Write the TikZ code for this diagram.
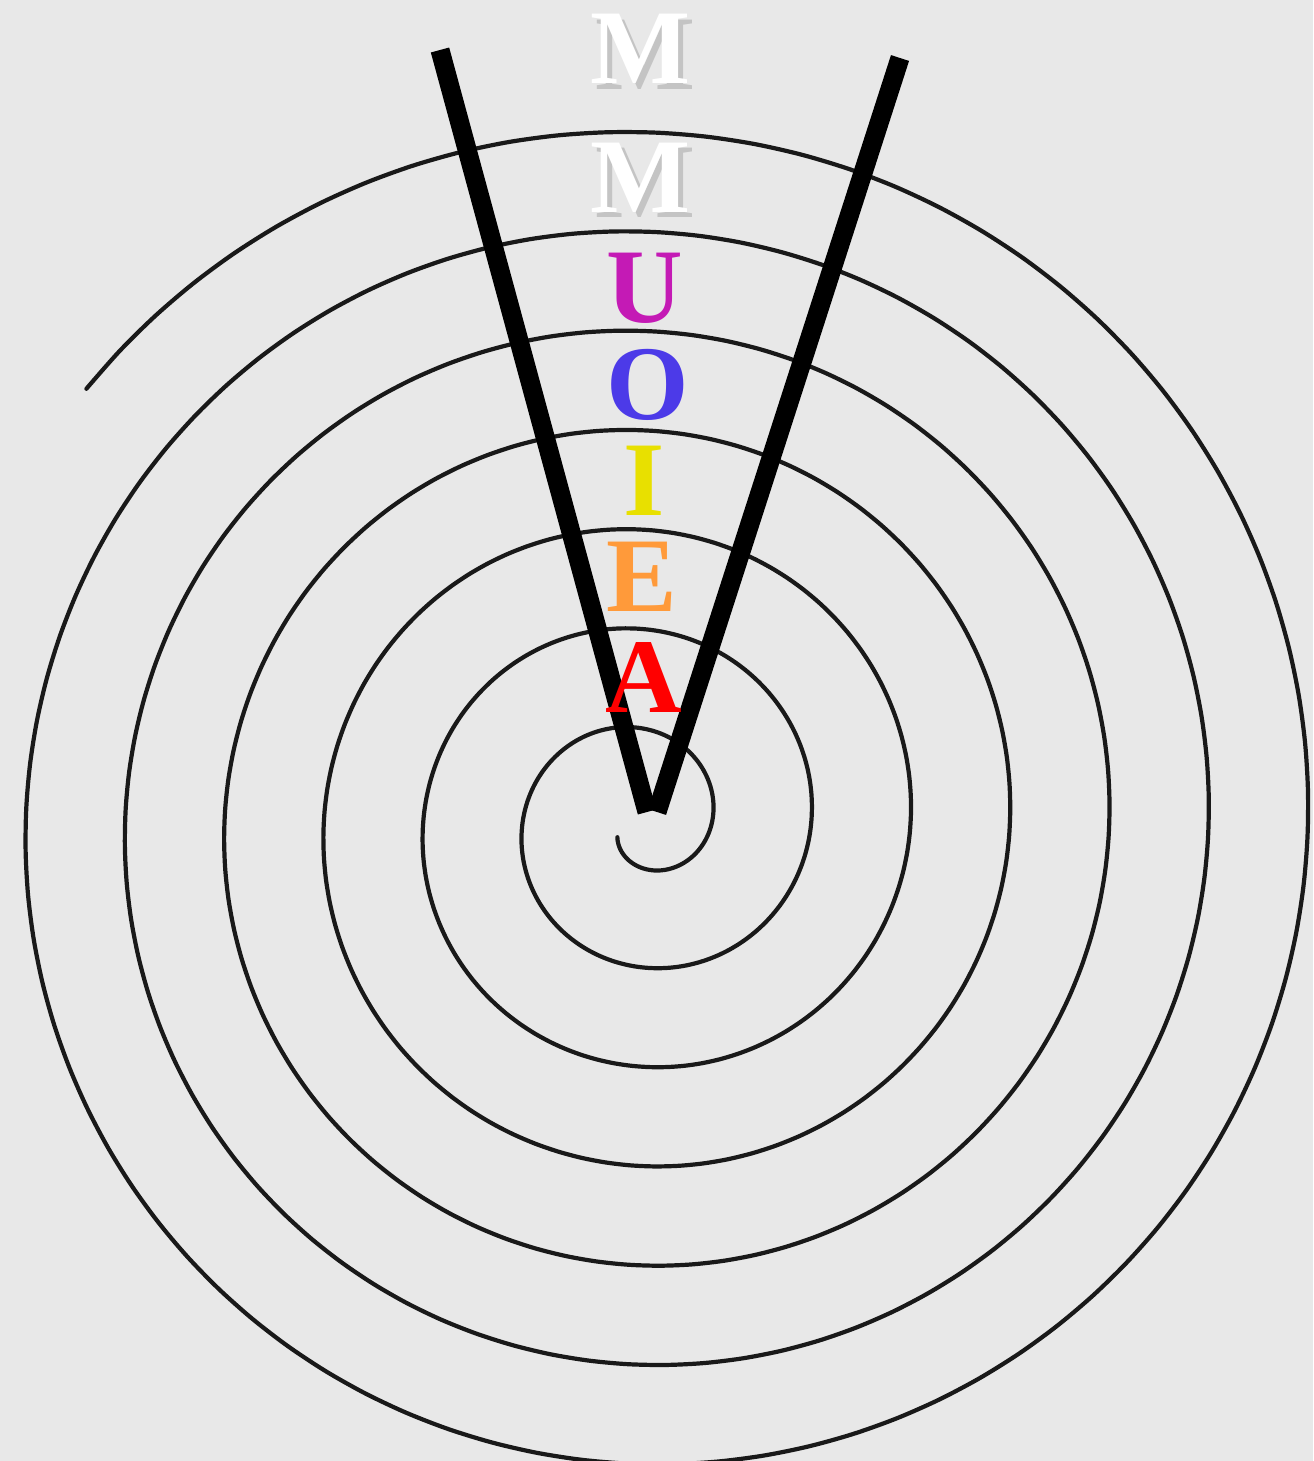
\documentclass[tikz,border=0pt]{standalone}
\usepackage{fontspec}
\setmainfont{Liberation Serif}
\definecolor{bgc}{RGB}{232,232,232}
\definecolor{cU}{RGB}{196,26,181}
\definecolor{cO}{RGB}{76,58,232}
\definecolor{cI}{RGB}{232,224,0}
\definecolor{cE}{RGB}{255,154,58}
\definecolor{cA}{RGB}{255,0,0}
\definecolor{shc}{RGB}{196,196,196}
\newcommand{\shadowedM}{\rlap{\hspace{2.2pt}\raisebox{-2.6pt}{\textcolor{shc}{M}}}\textcolor{white}{M}}
\tikzset{
  letter/.style={anchor=base, inner sep=0pt, font=\fontsize{53}{60}\selectfont\bfseries},
  spiralline/.style={line width=2.1pt, black!90, line cap=round},
  vline/.style={line width=9.5pt, black},
}
\begin{document}
\begin{tikzpicture}[x=0.5pt, y=-0.5pt]
\fill[bgc] (0,0) rectangle (1313,1461);
\useasboundingbox (0,0) rectangle (1313,1461);
% spiral
\draw[spiralline] plot[domain=-150:2302, samples=600, smooth, variable=\t]
  ({642+(45+0.276*(\t+90))*cos(\t)}, {823-(45+0.276*(\t+90))*sin(\t)});
% V
\coordinate (vl) at (440,50);
\coordinate (vr) at (900,58);
\coordinate (vbl) at (647,812);
\coordinate (vbr) at (657,812);
\draw[vline] (vl) -- (vbl);
\draw[vline] (vr) -- (vbr);
% letters
\node[letter] (m1) at (641,84) {\shadowedM};
\node[letter] (m2) at (641,212) {\shadowedM};
\node[letter, text=cU] (u) at (645,322) {U};
\node[letter, text=cO] (o) at (648,419) {O};
\node[letter, text=cI] (i) at (644,515) {I};
\node[letter, text=cE] (e) at (642,611) {E};
\node[letter, text=cA] (a) at (644,712) {A};
\end{tikzpicture}
\end{document}
